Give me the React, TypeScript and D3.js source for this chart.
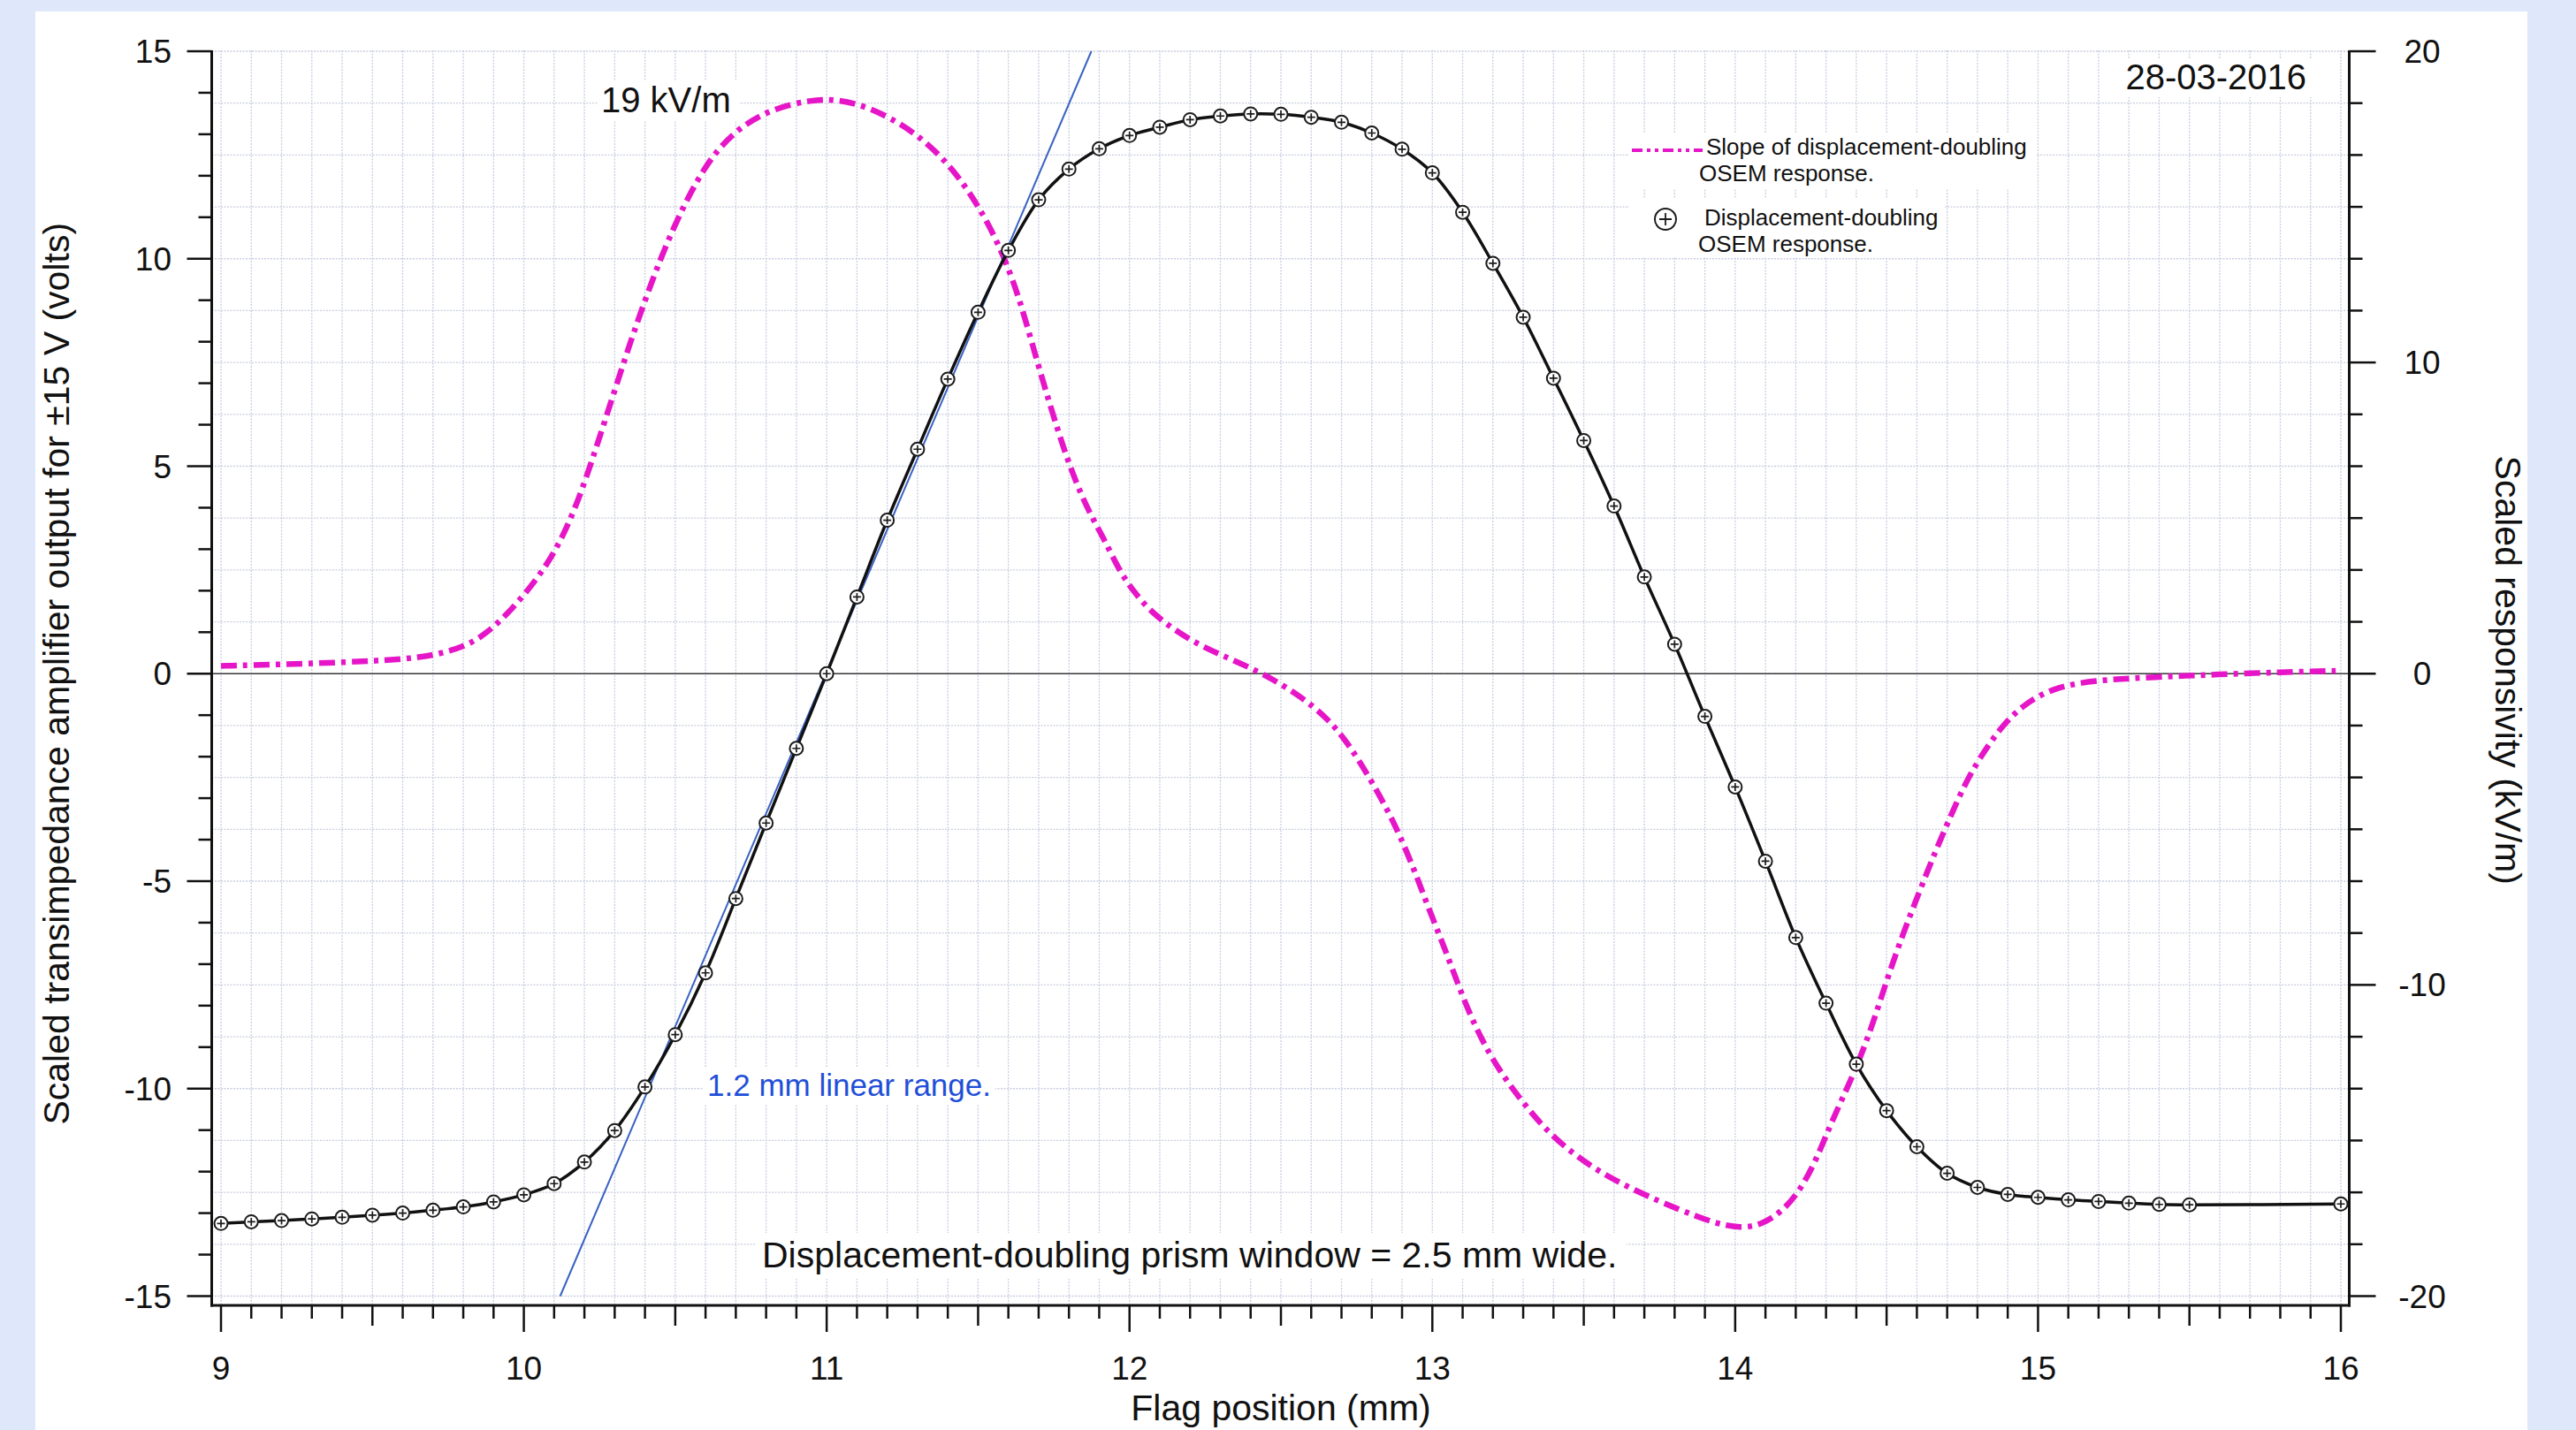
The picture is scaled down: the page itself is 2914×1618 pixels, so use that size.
import React from 'react';
import * as d3 from 'd3';

const W = 2914;
const H = 1618;

// tick labels
const xTickLabels = [9, 10, 11, 12, 13, 14, 15, 16];
const leftTickLabels = [-15, -10, -5, 0, 5, 10, 15];
const rightTickLabels = [-20, -10, 0, 10, 20];

// Displacement-doubling OSEM response (left axis, volts)
const positionMM = [
  9.0, 9.1, 9.2, 9.3, 9.4, 9.5, 9.6, 9.7, 9.8, 9.9,
  10.0, 10.1, 10.2, 10.3, 10.4, 10.5, 10.6, 10.7, 10.8, 10.9,
  11.0, 11.1, 11.2, 11.3, 11.4, 11.5, 11.6, 11.7, 11.8, 11.9,
  12.0, 12.1, 12.2, 12.3, 12.4, 12.5, 12.6, 12.7, 12.8, 12.9,
  13.0, 13.1, 13.2, 13.3, 13.4, 13.5, 13.6, 13.7, 13.8, 13.9,
  14.0, 14.1, 14.2, 14.3, 14.4, 14.5, 14.6, 14.7, 14.8, 14.9,
  15.0, 15.1, 15.2, 15.3, 15.4, 15.5, 16.0,
];
const responseVolts = [
  -13.25, -13.21, -13.18, -13.14, -13.1, -13.05, -13.0, -12.93, -12.85, -12.73,
  -12.56, -12.29, -11.77, -11.01, -9.96, -8.7, -7.21, -5.42, -3.6, -1.8,
  0.0, 1.85, 3.7, 5.41, 7.1, 8.71, 10.2, 11.42, 12.16, 12.65,
  12.97, 13.17, 13.35, 13.44, 13.49, 13.48, 13.41, 13.29, 13.03, 12.64,
  12.07, 11.12, 9.89, 8.59, 7.12, 5.62, 4.04, 2.33, 0.71, -1.03,
  -2.73, -4.52, -6.36, -7.94, -9.41, -10.53, -11.4, -12.04, -12.38, -12.55,
  -12.62, -12.68, -12.72, -12.76, -12.79, -12.8, -12.78,
];

// Slope of displacement-doubling OSEM response (right axis, kV/m)
const slopeX = [
  9.0, 9.2, 9.4, 9.6, 9.7, 9.8, 9.875, 9.97, 10.07, 10.14,
  10.2, 10.25, 10.3, 10.35, 10.4, 10.45, 10.5, 10.55, 10.6, 10.65,
  10.72, 10.82, 10.95, 11.04, 11.14, 11.24, 11.32, 11.4, 11.47, 11.535,
  11.59, 11.64, 11.69, 11.74, 11.79, 11.84, 11.88, 11.92, 11.967, 12.015,
  12.083, 12.21, 12.327, 12.443, 12.56, 12.657, 12.725, 12.793, 12.852, 12.895,
  12.94, 12.99, 13.04, 13.085, 13.134, 13.202, 13.299, 13.396, 13.523, 13.669,
  13.815, 13.932, 14.019, 14.087, 14.155, 14.214, 14.272, 14.32, 14.389, 14.45,
  14.502, 14.554, 14.606, 14.659, 14.711, 14.763, 14.815, 14.878, 14.951, 15.045,
  15.18, 15.388, 15.597, 15.805, 15.983,
];
const slopeKVm = [
  0.25, 0.3, 0.36, 0.46, 0.58, 0.85, 1.26, 2.15, 3.37, 4.6,
  6.1, 7.6, 9.1, 10.6, 12.0, 13.3, 14.45, 15.45, 16.3, 16.95,
  17.6, 18.15, 18.45, 18.45, 18.2, 17.7, 17.15, 16.4, 15.5, 14.45,
  13.3, 11.95, 10.2, 8.55, 7.0, 5.75, 4.95, 4.25, 3.3, 2.62,
  1.85, 1.0, 0.5, 0.0, -0.69, -1.45, -2.28, -3.35, -4.38, -5.25,
  -6.3, -7.6, -8.8, -9.99, -11.19, -12.49, -13.8, -14.89, -15.86, -16.62,
  -17.22, -17.66, -17.82, -17.71, -17.28, -16.62, -15.54, -14.35, -12.93, -11.4,
  -9.8, -8.36, -7.06, -5.76, -4.58, -3.45, -2.6, -1.71, -1.0, -0.47,
  -0.21, -0.11, -0.02, 0.05, 0.09,
];

// linear fit line (left axis)
const fitX = [10.12, 11.874];
const fitV = [-15, 15];

const FONT = 'Liberation Sans, Arial, Helvetica, sans-serif';
const MAGENTA = '#e616c8';
const BLUE_LINE = '#3a62c4';
const GRID = '#c9cde0';

function Marker({ cx, cy }: { cx: number; cy: number }) {
  return (
    <g transform={`translate(${cx},${cy})`}>
      <circle r={7.5} fill="#ffffff" stroke="#1c1c1c" strokeWidth={2} />
      <path d="M-4.5,0H4.5M0,-4.5V4.5" stroke="#1c1c1c" strokeWidth={1.7} />
    </g>
  );
}

export default function App() {
  const x = d3.scaleLinear().domain([9, 16]).range([250, 2648]);
  const yL = d3.scaleLinear().domain([-15, 15]).range([1466.5, 58]);
  const yR = d3.scaleLinear().domain([-20, 20]).range([1466.5, 58]);

  const axL = 239.5;
  const axR = 2657.5;
  const axB = 1477;
  const axT = 57;

  const vGrid = d3.range(0, 71).map((i) => 9 + i * 0.1);
  const hGrid = d3.range(0, 25).map((i) => -20 + (i * 40) / 24);

  const respData = positionMM.map((p, i) => [p, responseVolts[i]] as [number, number]);
  const slopeData = slopeX.map((p, i) => [p, slopeKVm[i]] as [number, number]);

  const respLine = d3
    .line<[number, number]>()
    .x((d) => x(d[0]))
    .y((d) => yL(d[1]))
    .curve(d3.curveCatmullRom.alpha(0.5));
  const slopeLine = d3
    .line<[number, number]>()
    .x((d) => x(d[0]))
    .y((d) => yR(d[1]))
    .curve(d3.curveBasis);

  const leftMinor = d3.range(-15, 16, 1);
  const rightMinor = d3.range(0, 25).map((i) => -20 + (i * 40) / 24);
  const xMinor = d3.range(0, 71).map((i) => 9 + i * 0.1);

  return (
    <div style={{ position: 'absolute', left: 0, top: 0 }}>
      <svg width={W} height={H} style={{ display: 'block' }} fontFamily={FONT}>
        <rect x={0} y={0} width={W} height={H} fill="#dfe8fa" />
        <rect x={40} y={13} width={2819} height={H - 13} fill="#ffffff" />

        {/* grid */}
        <g stroke={GRID} strokeWidth={1.3} strokeDasharray="2,1.5">
          {vGrid.map((v, i) => (
            <line key={'vg' + i} x1={x(v)} x2={x(v)} y1={axT} y2={axB} />
          ))}
          {hGrid.map((v, i) => (
            <line key={'hg' + i} x1={axL} x2={axR} y1={yR(v)} y2={yR(v)} />
          ))}
        </g>

        {/* annotation backgrounds */}
        <g fill="#ffffff">
          <rect x={676} y={92} width={160} height={44} />
          <rect x={2395} y={66} width={220} height={44} />
          <rect x={1843} y={150} width={460} height={64} />
          <rect x={1843} y={224} width={357} height={66} />
          <rect x={796} y={1208} width={330} height={42} />
          <rect x={855} y={1395} width={985} height={52} />
        </g>

        {/* zero line */}
        <line x1={axL} x2={axR} y1={yL(0)} y2={yL(0)} stroke="#3a3a3a" strokeWidth={1.5} />

        {/* slope trace */}
        <path
          d={slopeLine(slopeData) || ''}
          fill="none"
          stroke={MAGENTA}
          strokeWidth={6.5}
          strokeDasharray="18,7,5,7"
        />

        {/* linear fit */}
        <line
          x1={x(fitX[0])}
          y1={yL(fitV[0])}
          x2={x(fitX[1])}
          y2={yL(fitV[1])}
          stroke={BLUE_LINE}
          strokeWidth={2}
        />

        {/* response trace */}
        <path d={respLine(respData) || ''} fill="none" stroke="#111" strokeWidth={3.5} />
        {respData.map((d, i) => (
          <Marker key={'m' + i} cx={x(d[0])} cy={yL(d[1])} />
        ))}

        {/* axes */}
        <g stroke="#111" strokeWidth={3} fill="none">
          <line x1={axL} x2={axL} y1={axT} y2={axB + 1.5} />
          <line x1={axR} x2={axR} y1={axT} y2={axB + 1.5} />
          <line x1={axL - 1.5} x2={axR + 1.5} y1={axB} y2={axB} />
        </g>
        <g stroke="#111" strokeWidth={2.5}>
          {leftMinor.map((v, i) => {
            const major = v % 5 === 0;
            return (
              <line key={'lt' + i} x1={axL} x2={axL - (major ? 28 : 15)} y1={yL(v)} y2={yL(v)} />
            );
          })}
          {rightMinor.map((v, i) => {
            const major = i % 6 === 0;
            return (
              <line key={'rt' + i} x1={axR} x2={axR + (major ? 30 : 15)} y1={yR(v)} y2={yR(v)} />
            );
          })}
          {xMinor.map((v, i) => {
            const len = i % 10 === 0 ? 30 : i % 5 === 0 ? 23 : 15;
            return <line key={'xt' + i} x1={x(v)} x2={x(v)} y1={axB} y2={axB + len} />;
          })}
        </g>

        {/* tick labels */}
        <g fontSize={37} fill="#111">
          {leftTickLabels.map((v) => (
            <text key={'ll' + v} x={194} y={yL(v) + 13} textAnchor="end">
              {v}
            </text>
          ))}
          {rightTickLabels.map((v) => (
            <text key={'rl' + v} x={2740} y={yR(v) + 13} textAnchor="middle">
              {v}
            </text>
          ))}
          {xTickLabels.map((v) => (
            <text key={'xl' + v} x={x(v)} y={1561} textAnchor="middle">
              {v}
            </text>
          ))}
        </g>

        {/* axis titles */}
        <text
          fontSize={41}
          fill="#111"
          textAnchor="middle"
          transform={`translate(78,${yL(0)}) rotate(-90)`}
        >
          Scaled transimpedance amplifier output for ±15 V (volts)
        </text>
        <text
          fontSize={41}
          fill="#111"
          textAnchor="middle"
          transform={`translate(2823,${yL(0) - 4}) rotate(90)`}
        >
          Scaled responsivity (kV/m)
        </text>
        <text fontSize={41} fill="#111" textAnchor="middle" x={1449} y={1607}>
          Flag position (mm)
        </text>

        {/* annotations */}
        <text fontSize={40} fill="#111" x={680} y={127}>
          19 kV/m
        </text>
        <text fontSize={40} fill="#111" x={2609} y={101} textAnchor="end">
          28-03-2016
        </text>
        <text fontSize={35} fill="#1f4fd8" x={800} y={1240}>
          1.2 mm linear range.
        </text>
        <text fontSize={41} fill="#111" x={862} y={1434}>
          Displacement-doubling prism window = 2.5 mm wide.
        </text>

        {/* legend */}
        <line
          x1={1846}
          x2={1926}
          y1={170}
          y2={170}
          stroke={MAGENTA}
          strokeWidth={4}
          strokeDasharray="12,5,4,5,4,5"
        />
        <g fontSize={26} fill="#111">
          <text x={1930} y={175}>Slope of displacement-doubling</text>
          <text x={1922} y={205}>OSEM response.</text>
          <text x={1928} y={255}>Displacement-doubling</text>
          <text x={1921} y={285}>OSEM response.</text>
        </g>
        <g transform="translate(1884,248)">
          <circle r={12} fill="#ffffff" stroke="#1c1c1c" strokeWidth={2} />
          <path d="M-7,0H7M0,-7V7" stroke="#1c1c1c" strokeWidth={1.8} />
        </g>
      </svg>
    </div>
  );
}
